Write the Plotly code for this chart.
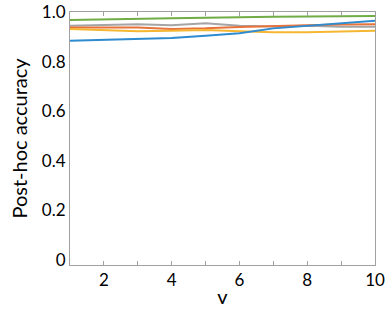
import plotly.graph_objects as go

v = [1, 2, 3, 4, 5, 6, 7, 8, 9, 10]
green = [0.968, 0.971, 0.973, 0.975, 0.977, 0.980, 0.981, 0.982, 0.983, 0.984]
gray = [0.945, 0.948, 0.951, 0.947, 0.955, 0.945, 0.942, 0.945, 0.941, 0.941]
red = [0.938, 0.938, 0.938, 0.931, 0.934, 0.940, 0.945, 0.947, 0.950, 0.951]
yellow = [0.931, 0.925, 0.922, 0.924, 0.927, 0.922, 0.918, 0.918, 0.920, 0.924]
blue = [0.884, 0.887, 0.891, 0.895, 0.904, 0.914, 0.934, 0.945, 0.955, 0.965]

x_ticks = [1, 2, 3, 4, 5, 6, 7, 8, 9, 10]
x_labels = ['', '2', '', '4', '', '6', '', '8', '', '10']
y_ticks = [0, 0.2, 0.4, 0.6, 0.8, 1.0]
y_labels = ['0', '0.2', '0.4', '0.6', '0.8', '1.0']

series = [
  (green, '#70AD47'),
  (gray, '#A5A5A5'),
  (red, '#E8733A'),
  (yellow, '#F5B731'),
  (blue, '#2E8BD0'),
]

fig = go.Figure()
for ys, col in series:
  fig.add_trace(go.Scatter(x=v, y=ys, mode='lines', line=dict(color=col, width=2), showlegend=False))

font = dict(family='Lato, Liberation Sans, sans-serif', size=17, color='black')
fig.update_layout(
  width=388, height=316,
  margin=dict(l=70, r=13, t=12, b=51),
  plot_bgcolor='white', paper_bgcolor='white',
  font=font,
)
fig.update_xaxes(
  range=[1, 10], tickvals=x_ticks, ticktext=x_labels,
  ticks='inside', ticklen=4, tickcolor='#A0A0A0',
  showline=True, linecolor='#A0A0A0', linewidth=1, mirror='allticks',
  showgrid=False, zeroline=False, automargin=False, ticklabeloverflow='allow',
  title=dict(text='v', standoff=0),
)
fig.update_yaxes(
  range=[-0.02, 1.0], tickvals=y_ticks, ticktext=y_labels,
  ticks='', showline=True, linecolor='#A0A0A0', linewidth=1, mirror=True,
  showgrid=False, zeroline=False, automargin=False, ticklabeloverflow='allow',
  title=dict(text='Post-hoc accuracy', standoff=8),
)

# drop the default 8px body margin so the figure fills the window
fig.write_html('out.html', config={'displayModeBar': False},
               post_script="document.body.style.margin='0';")
